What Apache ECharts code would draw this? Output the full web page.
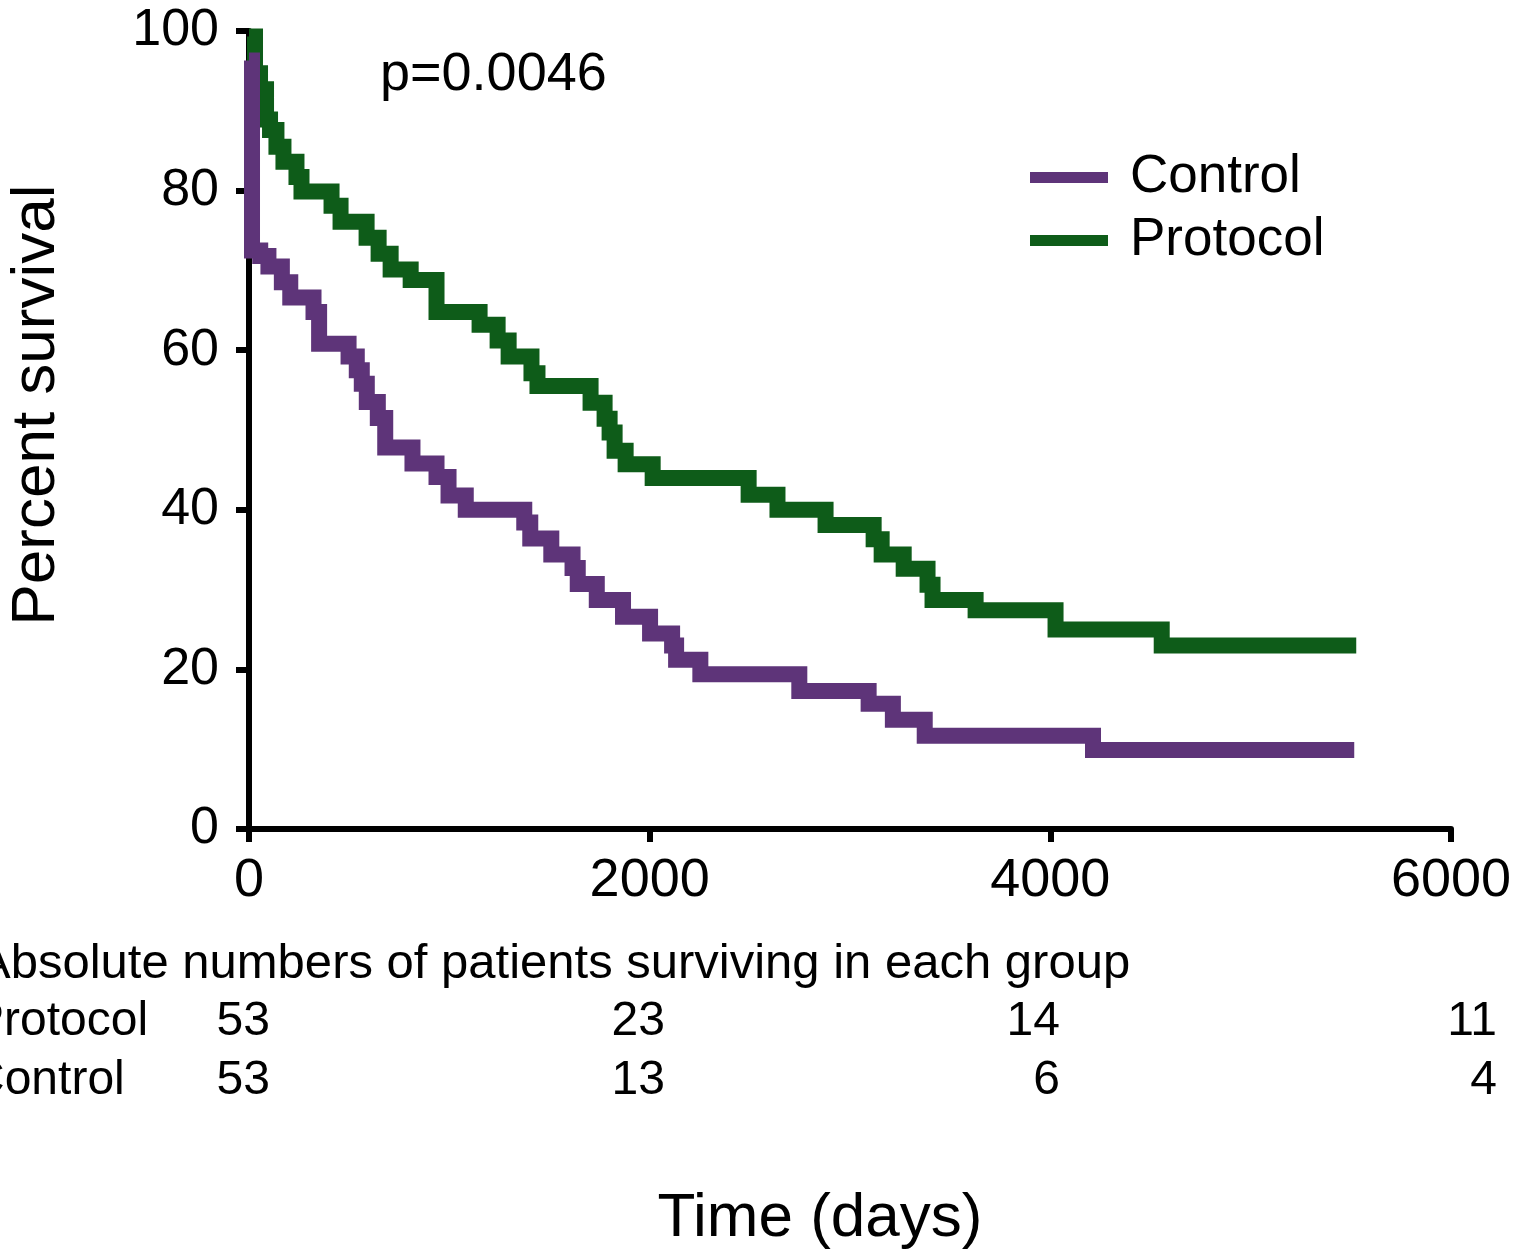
<!DOCTYPE html>
<html>
<head>
<meta charset="utf-8">
<title>Survival</title>
<script src="https://cdn.jsdelivr.net/npm/echarts@6/dist/echarts.min.js"></script>
<style>
  html, body { margin: 0; padding: 0; background: #fff; }
  #chart { width: 1513px; height: 1249px; }
</style>
</head>
<body>
<div id="chart"></div>
<script>
// Kaplan-Meier steps (day, percent surviving after the step)
const protocolDays = [0, 30, 55, 85, 105, 137, 172, 237, 262, 412, 457, 587, 647, 707, 807, 936, 1151, 1241, 1296, 1410, 1440, 1705, 1775, 1800, 1825, 1880, 2015, 2494, 2638, 2878, 3118, 3158, 3268, 3387, 3412, 3627, 4026, 4556, 5527];
const protocolSurv = [99.3, 94.7, 92.7, 88.9, 87.6, 85.5, 83.6, 81.7, 79.9, 78.1, 76.1, 74.1, 72.1, 70.1, 68.8, 64.8, 63.2, 61.2, 59.2, 57.1, 55.5, 53.4, 51.4, 49.7, 47.4, 45.7, 44.0, 41.9, 40.0, 38.1, 36.3, 34.4, 32.6, 30.6, 28.7, 27.4, 25.0, 23.0, 23.0];

const controlDays = [0, 15, 56, 97, 164, 206, 322, 350, 497, 538, 563, 588, 643, 680, 816, 936, 996, 1082, 1374, 1404, 1509, 1615, 1641, 1736, 1867, 2002, 2112, 2132, 2253, 2747, 3093, 3214, 3373, 4213, 5517];
const controlSurv = [96.3, 72.5, 71.8, 70.5, 68.5, 66.6, 64.8, 60.8, 59.2, 57.5, 55.8, 53.5, 51.5, 47.8, 45.8, 44.1, 41.8, 40.0, 38.4, 36.4, 34.4, 32.7, 30.7, 28.7, 26.6, 24.5, 23.0, 21.2, 19.4, 17.3, 15.7, 13.7, 11.7, 9.9, 9.9];

// numbers at risk table
const riskTimes = [0, 2000, 4000, 6000];
const riskProtocol = [53, 23, 14, 11];
const riskControl = [53, 13, 6, 4];

const pValue = 'p=0.0046';

// layout / style
const FONT = '"Liberation Sans", Helvetica, Arial, sans-serif';
const PURPLE = '#5e3479';
const GREEN = '#0e5c19';
const colRight = [270, 665, 1060, 1497];

function pairs(xs, ys) {
  return xs.map((x, i) => [x, ys[i]]);
}

function txt(text, x, y, size, align, extra) {
  return Object.assign({
    type: 'text',
    x: x,
    y: y,
    silent: true,
    style: {
      text: text,
      fontSize: size,
      fontFamily: FONT,
      fill: '#000',
      align: align,
      textAlign: align,
      verticalAlign: 'middle',
      textVerticalAlign: 'middle'
    }
  }, extra || {});
}

const chart = echarts.init(document.getElementById('chart'));

const graphic = [
  txt(pValue, 380, 75, 54, 'left'),
  txt('Percent survival', 37, 405, 62, 'center', { rotation: Math.PI / 2 }),
  txt('Time (days)', 820, 1219, 62, 'center'),
  txt('Absolute numbers of patients surviving in each group', -22, 964, 49, 'left'),
  txt('Protocol', -28, 1022, 48, 'left'),
  txt('Control', -30, 1081, 48, 'left')
];
riskTimes.forEach((t, i) => {
  graphic.push(txt(String(riskProtocol[i]), colRight[i], 1022, 48, 'right'));
  graphic.push(txt(String(riskControl[i]), colRight[i], 1081, 48, 'right'));
});

const axisCommon = {
  type: 'value',
  axisLine: { show: true, lineStyle: { color: '#000', width: 6 } },
  axisTick: { show: true, length: 13, lineStyle: { color: '#000', width: 6 } },
  splitLine: { show: false }
};

const option = {
  animation: false,
  backgroundColor: '#fff',
  grid: { left: 249, right: 62, top: 31, bottom: 420, outerBoundsMode: 'none', containLabel: false },
  xAxis: Object.assign({}, axisCommon, {
    min: 0, max: 6000, interval: 2000,
    axisLabel: { fontSize: 54, color: '#000', fontFamily: FONT, margin: 25, formatter: v => String(v) }
  }),
  yAxis: Object.assign({}, axisCommon, {
    min: 0, max: 100, interval: 20,
    axisLabel: { fontSize: 52, color: '#000', fontFamily: FONT, margin: 30 }
  }),
  legend: {
    data: ['Control', 'Protocol'],
    orient: 'vertical',
    left: 1025,
    top: 146,
    icon: 'rect',
    itemWidth: 78,
    itemHeight: 11,
    itemGap: 10,
    textStyle: { fontSize: 53, color: '#000', fontFamily: FONT, padding: [0, 0, 0, 17] }
  },
  series: [
    {
      name: 'Protocol',
      type: 'line',
      step: 'end',
      symbol: 'none',
      color: GREEN,
      lineStyle: { width: 16, color: GREEN, cap: 'butt', join: 'miter' },
      data: pairs(protocolDays, protocolSurv)
    },
    {
      name: 'Control',
      type: 'line',
      step: 'end',
      symbol: 'none',
      color: PURPLE,
      lineStyle: { width: 16, color: PURPLE, cap: 'butt', join: 'miter' },
      data: pairs(controlDays, controlSurv)
    }
  ],
  graphic: graphic
};

chart.setOption(option);
</script>
</body>
</html>
